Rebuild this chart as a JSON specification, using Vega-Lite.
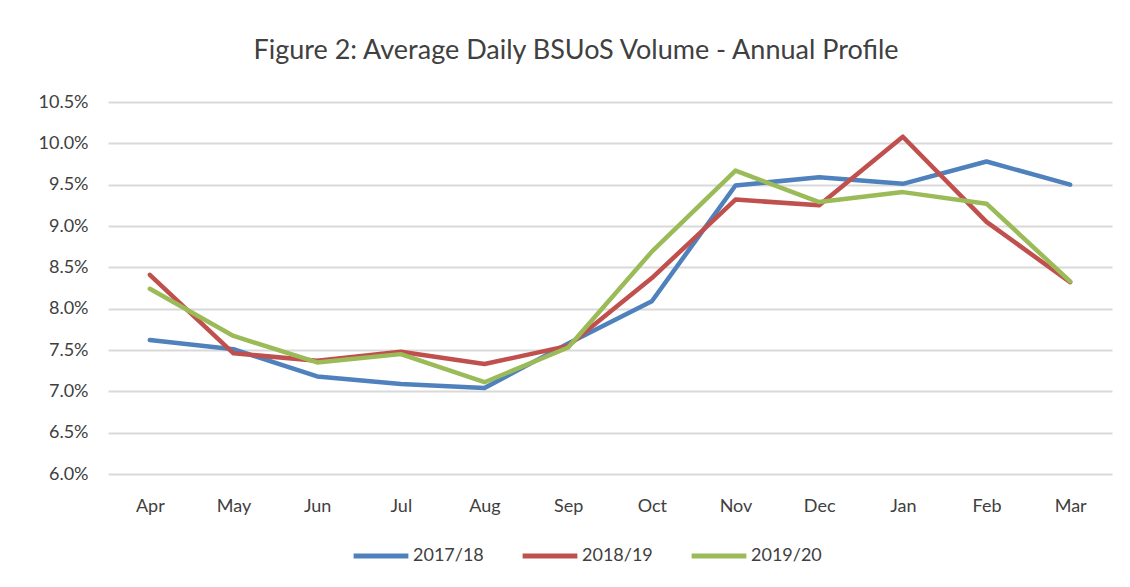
{
  "$schema": "https://vega.github.io/schema/vega-lite/v6.json",
  "autosize": {"type": "none"},
  "width": 1004,
  "height": 372,
  "padding": {"left": 108, "top": 102, "right": 18, "bottom": 113},
  "background": "white",
  "config": {"view": {"stroke": null}},
  "title": {
    "text": "Figure 2: Average Daily BSUoS Volume - Annual Profile",
    "font": "Lato",
    "fontSize": 27,
    "fontWeight": "normal",
    "color": "#404040",
    "anchor": "middle",
    "dx": -34,
    "offset": 28
  },
  "data": {
    "values": [
      {"month": "Apr", "year": "2017/18", "value": 0.0762},
      {"month": "May", "year": "2017/18", "value": 0.0751},
      {"month": "Jun", "year": "2017/18", "value": 0.0718},
      {"month": "Jul", "year": "2017/18", "value": 0.0709},
      {"month": "Aug", "year": "2017/18", "value": 0.0704},
      {"month": "Sep", "year": "2017/18", "value": 0.0758},
      {"month": "Oct", "year": "2017/18", "value": 0.0809},
      {"month": "Nov", "year": "2017/18", "value": 0.0949},
      {"month": "Dec", "year": "2017/18", "value": 0.0959},
      {"month": "Jan", "year": "2017/18", "value": 0.0951},
      {"month": "Feb", "year": "2017/18", "value": 0.0978},
      {"month": "Mar", "year": "2017/18", "value": 0.0950},
      {"month": "Apr", "year": "2018/19", "value": 0.0841},
      {"month": "May", "year": "2018/19", "value": 0.0746},
      {"month": "Jun", "year": "2018/19", "value": 0.0737},
      {"month": "Jul", "year": "2018/19", "value": 0.0748},
      {"month": "Aug", "year": "2018/19", "value": 0.0733},
      {"month": "Sep", "year": "2018/19", "value": 0.0755},
      {"month": "Oct", "year": "2018/19", "value": 0.0837},
      {"month": "Nov", "year": "2018/19", "value": 0.0932},
      {"month": "Dec", "year": "2018/19", "value": 0.0925},
      {"month": "Jan", "year": "2018/19", "value": 0.1008},
      {"month": "Feb", "year": "2018/19", "value": 0.0905},
      {"month": "Mar", "year": "2018/19", "value": 0.0832},
      {"month": "Apr", "year": "2019/20", "value": 0.0824},
      {"month": "May", "year": "2019/20", "value": 0.0767},
      {"month": "Jun", "year": "2019/20", "value": 0.0735},
      {"month": "Jul", "year": "2019/20", "value": 0.0745},
      {"month": "Aug", "year": "2019/20", "value": 0.0711},
      {"month": "Sep", "year": "2019/20", "value": 0.0753},
      {"month": "Oct", "year": "2019/20", "value": 0.0869},
      {"month": "Nov", "year": "2019/20", "value": 0.0967},
      {"month": "Dec", "year": "2019/20", "value": 0.0929},
      {"month": "Jan", "year": "2019/20", "value": 0.0941},
      {"month": "Feb", "year": "2019/20", "value": 0.0927},
      {"month": "Mar", "year": "2019/20", "value": 0.0833}
    ]
  },
  "mark": {"type": "line", "strokeWidth": 4.5, "strokeCap": "round", "strokeJoin": "round"},
  "encoding": {
    "x": {
      "field": "month",
      "type": "ordinal",
      "sort": ["Apr", "May", "Jun", "Jul", "Aug", "Sep", "Oct", "Nov", "Dec", "Jan", "Feb", "Mar"],
      "scale": {"type": "point", "padding": 0.5},
      "axis": {
        "title": null,
        "labelAngle": 0,
        "domain": false,
        "ticks": false,
        "grid": false,
        "labelPadding": 23,
        "labelFont": "Lato",
        "labelFontSize": 18,
        "labelColor": "#404040"
      }
    },
    "y": {
      "field": "value",
      "type": "quantitative",
      "scale": {"domain": [0.06, 0.105], "nice": false, "zero": false},
      "axis": {
        "title": null,
        "format": ".1%",
        "values": [0.06, 0.065, 0.07, 0.075, 0.08, 0.085, 0.09, 0.095, 0.1, 0.105],
        "domain": false,
        "ticks": false,
        "grid": true,
        "gridColor": "#d9d9d9",
        "gridWidth": 2,
        "labelPadding": 20,
        "labelFont": "Lato",
        "labelFontSize": 18,
        "labelColor": "#404040"
      }
    },
    "color": {
      "field": "year",
      "type": "nominal",
      "scale": {"domain": ["2017/18", "2018/19", "2019/20"], "range": ["#4F81BD", "#C0504D", "#9BBB59"]},
      "legend": {
        "title": null,
        "orient": "none",
        "direction": "horizontal",
        "legendX": 243,
        "legendY": 424,
        "symbolType": "stroke",
        "symbolSize": 3000,
        "symbolStrokeWidth": 5,
        "labelFont": "Lato",
        "labelFontSize": 18,
        "labelColor": "#404040",
        "labelOffset": 2,
        "columnPadding": 28
      }
    }
  }
}
